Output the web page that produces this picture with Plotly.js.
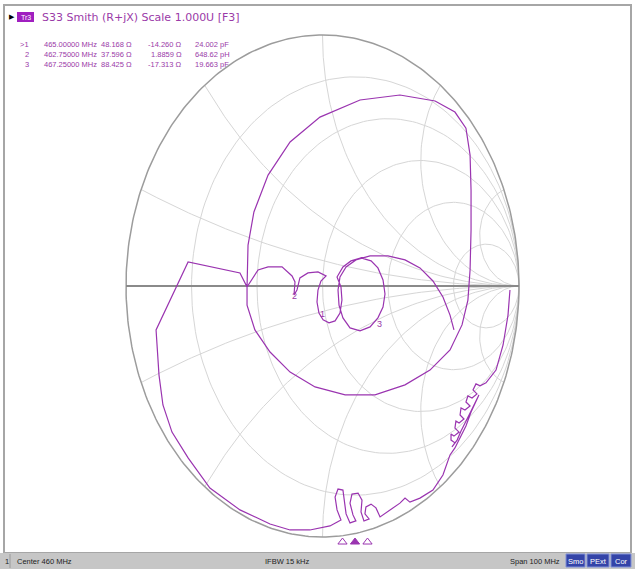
<!DOCTYPE html>
<html><head><meta charset="utf-8">
<script src="https://cdn.plot.ly/plotly-3.0.1.min.js"></script>
<style>html,body{margin:0;padding:0;background:#fff;overflow:hidden;} #chart{width:635px;height:569px;}</style>
</head><body><div id="chart"></div>
<script>
// ---- data: reflection coefficient of the S33 trace (real / imaginary part of Gamma) ----
const gammaRe = [0.954,0.944,0.919,0.883,
 0.832,0.802,0.781,0.766,0.786,0.761,0.740,0.730,0.751,0.725,0.705,0.700,0.720,0.695,0.679,0.674,0.695,0.669,0.654,0.654,0.674,0.659,
 0.685,0.705,0.730,0.751,0.776,0.796,0.781,0.756,0.730,0.700,0.674,0.649,
 0.613,0.562,0.496,0.445,0.420,0.394,0.344,
 0.293,0.272,0.247,0.221,0.216,0.237,0.211,0.196,0.201,0.181,0.150,0.140,0.155,0.170,0.140,0.120,0.109,0.104,0.079,0.064,0.074,0.094,0.038,
 -0.064,-0.165,-0.267,-0.420,-0.573,-0.684,-0.766,-0.812,-0.832,-0.847,-0.776,-0.684,-0.420,-0.384,
 -0.384,-0.344,-0.267,-0.165,-0.038,0.115,0.267,0.420,0.547,0.649,0.710,0.740,0.751,0.756,0.756,0.751,
 0.730,0.674,0.573,0.394,0.191,-0.013,-0.165,-0.277,-0.349,-0.379,-0.384,
 -0.328,-0.277,-0.206,-0.155,-0.140,-0.145,-0.130,-0.115,-0.074,-0.023,0.018,
 -0.008,-0.023,-0.028,-0.018,0.003,0.033,0.064,0.089,0.099,0.094,0.074,
 0.104,0.145,0.196,0.247,0.282,0.308,0.318,0.308,0.282,0.242,0.191,0.140,0.104,0.084,0.079,0.089,0.120,0.170,0.242,0.333,0.420,0.496,0.562,0.613,0.649,0.669];
const gammaIm = [-0.016,-0.116,-0.235,-0.335,
 -0.386,-0.398,-0.390,-0.414,-0.430,-0.446,-0.438,-0.462,-0.478,-0.494,-0.486,-0.514,-0.530,-0.546,-0.538,-0.566,-0.582,-0.598,-0.590,-0.614,-0.625,-0.641,
 -0.614,-0.578,-0.542,-0.506,-0.466,-0.434,-0.462,-0.502,-0.558,-0.606,-0.645,-0.673,
 -0.753,-0.813,-0.845,-0.861,-0.845,-0.865,-0.892,
 -0.920,-0.884,-0.869,-0.880,-0.908,-0.928,-0.936,-0.900,-0.853,-0.825,-0.829,-0.865,-0.912,-0.936,-0.944,-0.908,-0.853,-0.813,-0.809,-0.841,-0.892,-0.932,-0.956,
 -0.972,-0.972,-0.948,-0.892,-0.805,-0.685,-0.582,-0.474,-0.355,-0.175,-0.056,0.096,0.052,-0.004,
 -0.076,-0.175,-0.263,-0.343,-0.402,-0.434,-0.434,-0.394,-0.335,-0.255,-0.155,-0.056,0.064,0.223,0.382,0.522,
 0.629,0.693,0.737,0.761,0.741,0.673,0.574,0.442,0.295,0.163,-0.004,
 0.064,0.076,0.076,0.040,0.016,-0.036,-0.016,0.032,0.052,0.056,0.040,
 0.020,-0.016,-0.064,-0.108,-0.135,-0.147,-0.139,-0.108,-0.056,-0.004,0.036,
 0.076,0.100,0.112,0.100,0.072,0.024,-0.032,-0.084,-0.127,-0.163,-0.179,-0.167,-0.127,-0.076,-0.016,0.036,0.076,0.104,0.120,0.120,0.104,0.072,0.020,-0.044,-0.116,-0.175];

// ---- markers ----
const markerNames = ['1', '2', '3'];
const markerFreqMHz = [465.0, 462.75, 467.25];
const markerFreqText = ['465.00000 MHz', '462.75000 MHz', '467.25000 MHz'];
const markerR = [48.168, 37.596, 88.425];          // ohm
const markerX = [-14.260, 1.8859, -17.313];        // ohm
const markerRText = ['48.168 Ω', '37.596 Ω', '88.425 Ω'];
const markerXText = ['-14.260 Ω', '1.8859 Ω', '-17.313 Ω'];
const markerEquiv = ['24.002 pF', '648.62 pH', '19.663 pF'];
const activeMarker = '1';
const Z0 = 50;

// ---- Smith grid values ----
const gridR = [0.2, 0.5, 1, 2, 5];
const gridX = [0.2, 0.5, 1, 2, 5];

// ---- texts ----
const traceTag = 'Tr3';
const headerText = 'S33 Smith (R+jX) Scale 1.000U [F3]';
const statusChannel = '1';
const statusLeft = 'Center 460 MHz';
const statusMid = 'IFBW 15 kHz';
const statusRight = 'Span 100 MHz';
const statusFlags = ['Smo', 'PExt', 'Cor'];

// ---- geometry / style ----
const W = 635, H = 569;
const CX = 322.5, CY = 286, RX = 196.5, RY = 251;
const TRACE = '#9a34b0';
const TXT = '#9a3aa8';
const GRID = '#d6d6d6';
const px = v => v / W;
const py = v => 1 - v / H;

function zToGamma(r, x) {
  const dr = (r + 1), nr = (r - 1);
  const d = dr * dr + x * x;
  return [(nr * dr + x * x) / d, (x * dr - nr * x) / d];
}

const gx = [], gy = [];
gridR.forEach(r => {
  const c = r / (1 + r), rad = 1 / (1 + r);
  for (let i = 0; i <= 200; i++) { const t = 2 * Math.PI * i / 200; gx.push(c + rad * Math.cos(t)); gy.push(rad * Math.sin(t)); }
  gx.push(null); gy.push(null);
});
gridX.forEach(xv => {
  [xv, -xv].forEach(x => {
    for (let i = 0; i <= 200; i++) { const r = Math.pow(10, -3 + 6 * i / 200) - 0.001; const g = zToGamma(r, x); gx.push(g[0]); gy.push(g[1]); }
    gx.push(null); gy.push(null);
  });
});
const ox = [], oy = [];
for (let i = 0; i <= 360; i++) { const t = 2 * Math.PI * i / 360; ox.push(Math.cos(t)); oy.push(Math.sin(t)); }

const mG = markerR.map((r, i) => zToGamma(r / Z0, markerX[i] / Z0));

const traces = [
  {x: gx, y: gy, mode: 'lines', line: {color: GRID, width: 1}, hoverinfo: 'skip'},
  {x: ox, y: oy, mode: 'lines', line: {color: '#9c9c9c', width: 1.5}, hoverinfo: 'skip'},
  {x: [-1, 1], y: [0, 0], mode: 'lines', line: {color: '#8a8a8a', width: 2}, hoverinfo: 'skip'},
  {x: gammaRe, y: gammaIm, mode: 'lines', line: {color: TRACE, width: 1.2}},
  {x: markerFreqMHz, y: markerFreqMHz.map(() => -1.02), xaxis: 'x2', mode: 'markers', cliponaxis: false,
   marker: {symbol: 'triangle-up', size: 8,
     color: markerNames.map(n => n === activeMarker ? TRACE : '#ffffff'),
     line: {color: TRACE, width: 1}}}
];

const ann = [];
// marker number labels on the trace (active marker label sits above its point)
markerNames.forEach((n, i) => ann.push({xref: 'x', yref: 'y', x: mG[i][0], y: mG[i][1], text: n, showarrow: false,
  xanchor: 'center', yanchor: n === activeMarker ? 'bottom' : 'top', yshift: n === activeMarker ? 1 : -9,
  font: {family: 'Liberation Sans', size: 9, color: TXT}}));

const A = (x, y, text, o) => ann.push(Object.assign({xref: 'paper', yref: 'paper', x: px(x), y: py(y), text: text,
  showarrow: false, xanchor: 'left', yanchor: 'middle',
  font: {family: 'Liberation Sans', size: 7.5, color: TXT}}, o || {}));

A(7, 17, '▶', {font: {family: 'DejaVu Sans', size: 7, color: '#000'}});
A(25.5, 17, traceTag, {xanchor: 'center', font: {family: 'Liberation Sans', size: 7, color: '#ffffff'}});
A(40, 17, headerText, {font: {family: 'DejaVu Sans', size: 11, color: TXT}});
markerNames.forEach((n, i) => {
  const y = 44 + i * 10.5;
  A(31, y, (n === activeMarker ? '>' : '') + n, {xanchor: 'right'});
  A(42, y, markerFreqText[i]);
  A(134, y, markerRText[i], {xanchor: 'right'});
  A(184, y, markerXText[i], {xanchor: 'right'});
  A(193, y, markerEquiv[i]);
});
const SF = {family: 'Liberation Sans', size: 7.5, color: '#222'};
A(3, 561, statusChannel, {font: SF});
A(15, 561, statusLeft, {font: SF});
A(263, 561, statusMid, {font: SF});
A(562, 561, statusRight, {font: SF, xanchor: 'right'});
const flagBox = [[566, 585], [587, 609], [611, 631]];
statusFlags.forEach((f, i) => A((flagBox[i][0] + flagBox[i][1]) / 2, 561, f,
  {xanchor: 'center', font: {family: 'Liberation Sans', size: 7.5, color: '#ffffff'}}));

const shapes = [
  {type: 'rect', xref: 'paper', yref: 'paper', x0: px(4), x1: px(631), y0: py(553), y1: py(5),
   line: {color: '#a6a6a6', width: 2}, fillcolor: 'rgba(0,0,0,0)', layer: 'below'},
  {type: 'rect', xref: 'paper', yref: 'paper', x0: 0, x1: 1, y0: 0, y1: py(553),
   line: {width: 0}, fillcolor: '#c6c6c6', layer: 'below'},
  {type: 'line', xref: 'paper', yref: 'paper', x0: px(10), x1: px(10), y0: py(568), y1: py(554),
   line: {color: '#9a9a9a', width: 1}},
  {type: 'rect', xref: 'paper', yref: 'paper', x0: px(17), x1: px(34), y0: py(22), y1: py(12),
   line: {width: 0}, fillcolor: '#a01fc0'}
];
flagBox.forEach(b => shapes.push({type: 'rect', xref: 'paper', yref: 'paper', x0: px(b[0]), x1: px(b[1]),
  y0: py(567), y1: py(554), line: {color: '#7f8fd8', width: 1}, fillcolor: '#3444a8'}));

const layout = {
  width: W, height: H, margin: {l: 0, r: 0, t: 0, b: 0, pad: 0},
  paper_bgcolor: '#ffffff', plot_bgcolor: '#ffffff', showlegend: false,
  xaxis: {range: [(0 - CX) / RX, (W - CX) / RX], visible: false, fixedrange: true},
  yaxis: {range: [(CY - H) / RY, CY / RY], visible: false, fixedrange: true},
  xaxis2: {overlaying: 'x', range: [401.1, 515.4], visible: false, fixedrange: true},
  annotations: ann, shapes: shapes, hovermode: false
};
Plotly.newPlot('chart', traces, layout, {staticPlot: true, displayModeBar: false});
</script></body></html>
